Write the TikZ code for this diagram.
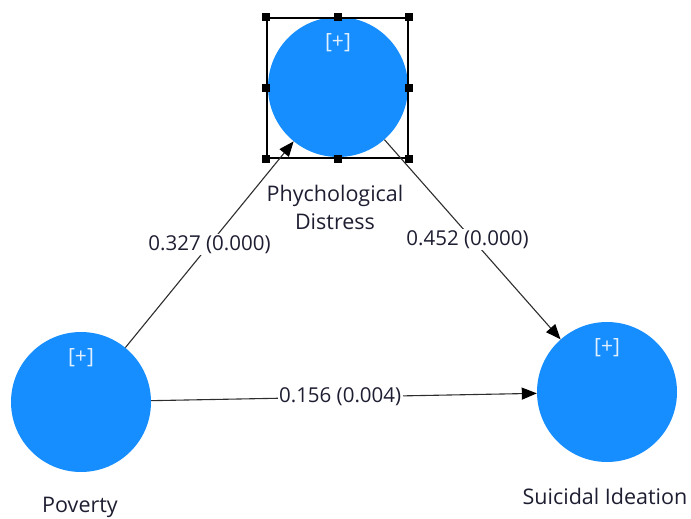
\documentclass[tikz,border=0pt]{standalone}
\usepackage{fontspec}
\setmainfont{Open Sans}
\usetikzlibrary{arrows.meta}
\definecolor{lvblue}{RGB}{22,142,255}
\definecolor{plustext}{RGB}{225,240,255}
\definecolor{linegray}{RGB}{45,45,45}
\definecolor{txtcol}{RGB}{30,30,50}
\begin{document}
\begin{tikzpicture}[x=1pt,y=-1pt,
  latent/.style={circle,fill=lvblue,draw=none,minimum size=140pt,inner sep=0pt},
  plusmark/.style={text=plustext,font=\fontsize{21}{24}\selectfont,inner sep=0pt},
  varlabel/.style={text=txtcol,font=\fontsize{21.5}{28}\selectfont,align=center,inner sep=0pt},
  pathline/.style={draw=linegray,line width=1.1pt,-{Triangle[length=15pt,width=12pt,color=black]}},
  coef/.style={fill=white,text=txtcol,font=\fontsize{20.5}{22}\selectfont,inner sep=1.5pt},
  handle/.style={rectangle,fill=black,minimum size=8pt,inner sep=0pt},
  selbox/.style={draw=black,line width=1.2pt,minimum width=141pt,minimum height=140pt,inner sep=0pt}
]
\useasboundingbox (0,0) rectangle (691,519);
\node[latent] (pd) at (338,87) {};
\node[latent] (pov) at (81,402) {};
\node[latent] (si) at (607,392) {};
\node[plusmark] (pdp) at (338,43) {[+]};
\node[plusmark] (povp) at (81,358) {[+]};
\node[plusmark] (sip) at (607,348) {[+]};
\node[varlabel] (pdl) at (335,207) {Phychological\\Distress};
\node[varlabel] (povl) at (80,507) {Poverty};
\node[varlabel] (sil) at (605,496) {Suicidal Ideation};
\node[selbox] (sel) at (337.5,88) {};
\foreach \p/\n in {north west/h1,north/h2,north east/h3,west/h4,east/h5,south west/h6,south/h7,south east/h8}
  \node[handle] (\n) at (sel.\p) {};
\draw[pathline] (pov) -- node[coef,pos=0.5] (c1) {0.327 (0.000)} (pd);
\draw[pathline] (pd) -- node[coef,pos=0.5,xshift=-5pt] (c2) {0.452 (0.000)} (si);
\draw[pathline] (pov) -- node[coef,pos=0.49] (c3) {0.156 (0.004)} (si);
\end{tikzpicture}
\end{document}
